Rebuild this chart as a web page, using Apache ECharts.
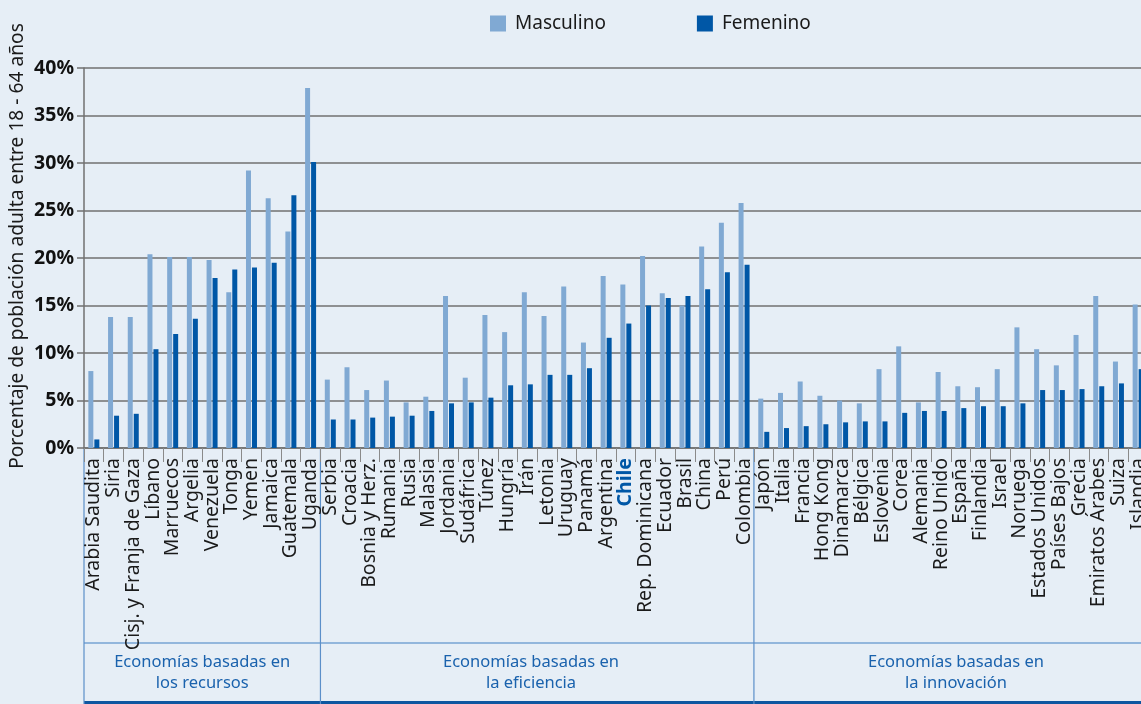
<!DOCTYPE html>
<html>
<head>
<meta charset="utf-8">
<script src="https://cdn.jsdelivr.net/npm/echarts@6/dist/echarts.min.js"></script>
<style>
  html, body { margin: 0; padding: 0; background: #e6eef6; }
  #chart { width: 1141px; height: 704px; }
</style>
</head>
<body>
<div id="chart"></div>
<script>
const categories = [
  'Arabia Saudita', 'Siria', 'Cisj. y Franja de Gaza', 'Líbano', 'Marruecos', 'Argelia',
  'Venezuela', 'Tonga', 'Yemen', 'Jamaica', 'Guatemala', 'Uganda',
  'Serbia', 'Croacia', 'Bosnia y Herz.', 'Rumania', 'Rusia', 'Malasia', 'Jordania',
  'Sudáfrica', 'Túnez', 'Hungría', 'Irán', 'Letonia', 'Uruguay', 'Panamá', 'Argentina',
  'Chile', 'Rep. Dominicana', 'Ecuador', 'Brasil', 'China', 'Perú', 'Colombia',
  'Japón', 'Italia', 'Francia', 'Hong Kong', 'Dinamarca', 'Bélgica', 'Eslovenia', 'Corea',
  'Alemania', 'Reino Unido', 'España', 'Finlandia', 'Israel', 'Noruega', 'Estados Unidos',
  'Países Bajos', 'Grecia', 'Emiratos Árabes', 'Suiza', 'Islandia'
];
const masculino = [
  8.1, 13.8, 13.8, 20.4, 20.1, 20.1, 19.8, 16.4, 29.2, 26.3, 22.8, 37.9,
  7.2, 8.5, 6.1, 7.1, 4.8, 5.4, 16.0, 7.4, 14.0, 12.2, 16.4, 13.9, 17.0, 11.1, 18.1,
  17.2, 20.2, 16.3, 15.0, 21.2, 23.7, 25.8,
  5.2, 5.8, 7.0, 5.5, 5.0, 4.7, 8.3, 10.7, 4.8, 8.0, 6.5, 6.4, 8.3, 12.7, 10.4,
  8.7, 11.9, 16.0, 9.1, 15.1
];
const femenino = [
  0.9, 3.4, 3.6, 10.4, 12.0, 13.6, 17.9, 18.8, 19.0, 19.5, 26.6, 30.1,
  3.0, 3.0, 3.2, 3.3, 3.4, 3.9, 4.7, 4.8, 5.3, 6.6, 6.7, 7.7, 7.7, 8.4, 11.6,
  13.1, 15.0, 15.8, 16.0, 16.7, 18.5, 19.3,
  1.7, 2.1, 2.3, 2.5, 2.7, 2.8, 2.8, 3.7, 3.9, 3.9, 4.2, 4.4, 4.4, 4.7, 6.1,
  6.1, 6.2, 6.5, 6.8, 8.3
];
const groupNames = [
  'Economías basadas en\nlos recursos',
  'Economías basadas en\nla eficiencia',
  'Economías basadas en\nla innovación'
];
const groupSizes = [12, 22, 20];
const highlight = 'Chile';

const FONT = '"Noto Sans", sans-serif';
const LIGHT = '#80a9d3';
const DARK = '#0057a6';
const GRID = '#707070';
const BLUE_TXT = '#1a62ad';

const chart = echarts.init(document.getElementById('chart'));

chart.setOption({
  backgroundColor: '#e6eef6',
  animation: false,
  textStyle: { fontFamily: FONT },
  legend: {
    left: 490,
    top: 14,
    padding: 0,
    itemWidth: 16,
    itemHeight: 16,
    itemGap: 91,
    icon: 'rect',
    textStyle: { fontSize: 19, color: '#1a1a1a', fontFamily: FONT, padding: [0, 0, 0, 4] },
    data: ['Masculino', 'Femenino']
  },
  grid: {
    left: 84, width: 1064, top: 68, height: 380,
    containLabel: false, outerBoundsMode: 'none'
  },
  xAxis: {
    type: 'category',
    data: categories.map(c => c === highlight
      ? { value: c, textStyle: { color: DARK, fontWeight: 'bold' } }
      : c),
    axisLine: { show: true, lineStyle: { color: GRID, width: 1.5 } },
    axisTick: { show: true, interval: 0, length: 14, lineStyle: { color: '#8a8a8a', width: 1 } },
    axisLabel: { interval: 0, rotate: 90, fontSize: 19.5, color: '#1a1a1a', margin: 10, fontFamily: FONT }
  },
  yAxis: {
    type: 'value',
    min: 0,
    max: 40,
    interval: 5,
    axisLine: { show: true, lineStyle: { color: GRID, width: 1.5 } },
    axisTick: { show: true, length: 7, lineStyle: { color: GRID, width: 1.5 } },
    splitLine: { lineStyle: { color: GRID, width: 1.5 } },
    axisLabel: {
      formatter: '{value}%',
      fontSize: 19.5,
      fontWeight: 'bold',
      color: '#111',
      margin: 10,
      fontFamily: FONT
    }
  },
  series: [
    {
      name: 'Masculino',
      type: 'bar',
      barWidth: 5,
      barGap: '20%',
      itemStyle: { color: LIGHT },
      data: masculino
    },
    {
      name: 'Femenino',
      type: 'bar',
      barWidth: 5,
      itemStyle: { color: DARK },
      data: femenino
    }
  ]
});

// group separators and labels below the axis
const x0 = chart.convertToPixel({ xAxisIndex: 0 }, 0);
const x1 = chart.convertToPixel({ xAxisIndex: 0 }, 1);
const step = x1 - x0;
const edge = i => x0 - step / 2 + i * step;

const graphics = [];
graphics.push({
  type: 'text',
  x: 18, y: 246, rotation: Math.PI / 2,
  style: {
    text: 'Porcentaje de población adulta entre 18 - 64 años',
    font: '19.2px ' + FONT, fill: '#1a1a1a', align: 'center', verticalAlign: 'middle'
  }
});
graphics.push({
  type: 'line',
  shape: { x1: edge(0), y1: 643, x2: 1141, y2: 643 },
  style: { stroke: '#3f7fc2', lineWidth: 1.2 }
});
graphics.push({
  type: 'line',
  shape: { x1: edge(0), y1: 702.5, x2: 1141, y2: 702.5 },
  style: { stroke: '#0d56a0', lineWidth: 3 }
});
let start = 0;
const labelCenters = [];
groupSizes.forEach((n, g) => {
  const xs = edge(start);
  graphics.push({
    type: 'line',
    shape: { x1: xs, y1: 449, x2: xs, y2: 704 },
    style: { stroke: '#5b8fc9', lineWidth: 1.2 }
  });
  const xe = edge(start + n);
  labelCenters.push((xs + xe) / 2);
  start += n;
});
labelCenters[1] = 531;
labelCenters[2] = 956;
groupNames.forEach((name, g) => {
  graphics.push({
    type: 'text',
    x: labelCenters[g], y: 673,
    style: {
      text: name, font: '16.5px ' + FONT, fill: BLUE_TXT,
      align: 'center', verticalAlign: 'middle', lineHeight: 21
    }
  });
});
chart.setOption({ graphic: graphics });
</script>
</body>
</html>
